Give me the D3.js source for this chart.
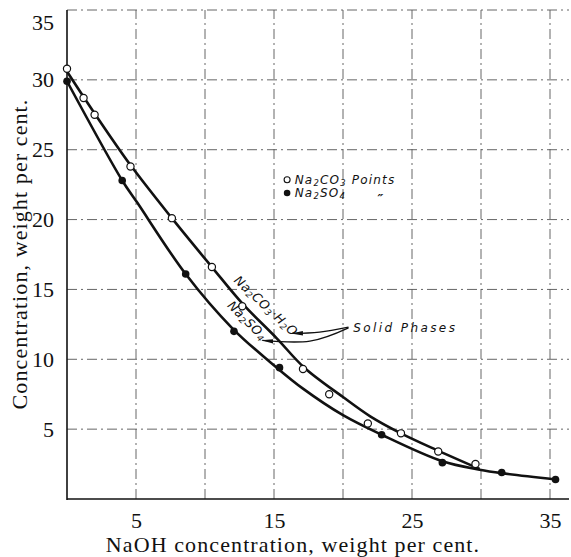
<!DOCTYPE html>
<html>
<head>
<meta charset="utf-8">
<script src="https://cdn.jsdelivr.net/npm/d3@7"></script>
<style>
  body { margin: 0; background: #fff; }
  .tick text { font-family: "Liberation Serif", serif; font-size: 22px; fill: #111; }
  .grid line { stroke: #555; stroke-width: 0.9; stroke-dasharray: 10,4,2,4; }
  .lettering { font-family: "DejaVu Sans", sans-serif; font-style: italic; fill: #111; }
</style>
</head>
<body>
<div id="chart"></div>
<script>
// Na2CO3 points (open circles)
var carbX = [0, 1.2, 2.0, 4.6, 7.6, 10.5, 12.7, 17.1, 19.0, 21.8, 24.2, 26.9, 29.6];
var carbY = [30.8, 28.7, 27.5, 23.8, 20.1, 16.6, 13.8, 9.3, 7.5, 5.4, 4.7, 3.4, 2.5];

// Na2SO4 points (filled circles)
var sulfX = [0, 4.0, 8.6, 12.1, 15.4, 22.8, 27.2, 31.5, 35.4];
var sulfY = [29.9, 22.8, 16.1, 12.0, 9.4, 4.6, 2.6, 1.9, 1.4];

// smoothed curves
var carbCurveX = [0, 2.0, 4.6, 7.6, 10.5, 12.7, 15.2, 17.2, 20.0, 22.0, 24.2, 26.8, 29.9];
var carbCurveY = [30.6, 27.6, 23.9, 20.1, 16.6, 14.0, 11.5, 9.4, 7.3, 5.9, 4.7, 3.5, 2.15];
var sulfCurveX = [0, 4.0, 5.1, 8.6, 12.0, 15.2, 17.1, 20.0, 22.8, 27.2, 29.9, 31.5, 35.4];
var sulfCurveY = [29.9, 22.8, 21.2, 16.1, 12.2, 9.4, 7.9, 6.0, 4.6, 2.7, 2.1, 1.85, 1.4];

// axis ticks
var gridTicks = [5, 10, 15, 20, 25, 30, 35];
var xLabels = [5, 15, 25, 35];
var yLabels = [5, 10, 15, 20, 25, 30, 35];

// 1. svg size
var svgWidth = 571;
var svgHeight = 557;

var svg = d3.select("#chart").append("svg")
    .attr("width", svgWidth)
    .attr("height", svgHeight);

// 2. scales (frame runs a little past 35 on the right)
var x = d3.scaleLinear().domain([0, 35]).range([67, 550]);
var y = d3.scaleLinear().domain([0, 35]).range([499, 10]);
var xRight = 569;

// 3. dash-dot grid
var grid = svg.append("g").attr("class", "grid");
grid.selectAll(".hline").data(gridTicks).enter().append("line")
    .attr("class", "hline")
    .attr("x1", x(0)).attr("x2", xRight)
    .attr("y1", d => y(d)).attr("y2", d => y(d));
grid.selectAll(".vline").data(gridTicks).enter().append("line")
    .attr("class", "vline")
    .attr("x1", d => x(d)).attr("x2", d => x(d))
    .attr("y1", y(0)).attr("y2", y(35));

// 4. solid axes
svg.append("line")
    .attr("x1", x(0)).attr("x2", x(0))
    .attr("y1", y(0) + 1).attr("y2", y(35))
    .attr("stroke", "#111").attr("stroke-width", 1.6);
svg.append("line")
    .attr("x1", x(0)).attr("x2", xRight)
    .attr("y1", y(0)).attr("y2", y(0))
    .attr("stroke", "#111").attr("stroke-width", 1.6);

// 5. tick labels
var xAxis = svg.append("g")
    .attr("transform", `translate(0, ${y(0)})`)
    .call(d3.axisBottom(x).tickValues(xLabels).tickSize(0).tickPadding(13));
xAxis.select(".domain").remove();
xAxis.attr("font-family", null).attr("font-size", null);

var yAxis = svg.append("g")
    .attr("transform", `translate(${x(0)}, 0)`)
    .call(d3.axisLeft(y).tickValues(yLabels).tickSize(0).tickPadding(13));
yAxis.select(".domain").remove();
yAxis.attr("font-family", null).attr("font-size", null);
// the top label sits a bit below the frame
yAxis.selectAll(".tick text").filter(d => d === 35).attr("dy", "0.9em");

// 6. curves
var line = d3.line()
    .x(d => x(d[0]))
    .y(d => y(d[1]))
    .curve(d3.curveCatmullRom.alpha(0.5));

svg.append("path")
    .datum(carbCurveX.map((v, i) => [v, carbCurveY[i]]))
    .attr("d", line)
    .attr("fill", "none").attr("stroke", "#111").attr("stroke-width", 2.6);
svg.append("path")
    .datum(sulfCurveX.map((v, i) => [v, sulfCurveY[i]]))
    .attr("d", line)
    .attr("fill", "none").attr("stroke", "#111").attr("stroke-width", 2.6);

// 7. points
svg.selectAll(".carb")
    .data(carbX.map((v, i) => [v, carbY[i]]))
    .enter().append("circle")
    .attr("class", "carb")
    .attr("cx", d => x(d[0])).attr("cy", d => y(d[1]))
    .attr("r", 3.6)
    .attr("fill", "#fff").attr("stroke", "#111").attr("stroke-width", 1.2);

svg.selectAll(".sulf")
    .data(sulfX.map((v, i) => [v, sulfY[i]]))
    .enter().append("circle")
    .attr("class", "sulf")
    .attr("cx", d => x(d[0])).attr("cy", d => y(d[1]))
    .attr("r", 3.8)
    .attr("fill", "#111");

// helper for formula text with subscripts
function formula(sel, parts) {
  parts.forEach(function(p) {
    var t = sel.append("tspan").text(p[0]);
    if (p[1]) t.attr("font-size", "0.7em").attr("baseline-shift", "-25%");
  });
}

// 8. legend
svg.append("circle")
    .attr("cx", x(15.95)).attr("cy", y(22.85)).attr("r", 3)
    .attr("fill", "#fff").attr("stroke", "#111").attr("stroke-width", 1.1);
svg.append("circle")
    .attr("cx", x(15.95)).attr("cy", y(21.9)).attr("r", 3.3)
    .attr("fill", "#111");

var leg1 = svg.append("text").attr("class", "lettering")
    .attr("x", x(16.5)).attr("y", y(22.55))
    .attr("font-size", 12).attr("letter-spacing", 1.2);
formula(leg1, [["Na", 0], ["2", 1], ["CO", 0], ["3", 1], ["  Points", 0]]);

var leg2 = svg.append("text").attr("class", "lettering")
    .attr("x", x(16.5)).attr("y", y(21.6))
    .attr("font-size", 12).attr("letter-spacing", 1.2);
formula(leg2, [["Na", 0], ["2", 1], ["SO", 0], ["4", 1]]);

// ditto mark under "Points"
svg.append("text").attr("class", "lettering")
    .attr("x", x(22.5)).attr("y", y(21.2))
    .attr("font-size", 13).attr("font-weight", "bold").text("\u2033");

// 9. curve labels
var lab1 = svg.append("text").attr("class", "lettering")
    .attr("font-size", 12.5).attr("letter-spacing", 0.6)
    .attr("text-anchor", "middle")
    .attr("transform", `translate(${x(14.2)}, ${y(13.6)}) rotate(43)`);
formula(lab1, [["Na", 0], ["2", 1], ["CO", 0], ["3", 1], ["\u00b7H", 0], ["2", 1], ["O", 0]]);

var lab2 = svg.append("text").attr("class", "lettering")
    .attr("font-size", 12.5).attr("letter-spacing", 0.6)
    .attr("text-anchor", "middle")
    .attr("transform", `translate(${x(12.85)}, ${y(12.55)}) rotate(45)`);
formula(lab2, [["Na", 0], ["2", 1], ["SO", 0], ["4", 1]]);

// 10. "Solid Phases" note with two arrows
svg.append("text").attr("class", "lettering")
    .attr("x", x(20.75)).attr("y", y(11.95))
    .attr("font-size", 12).attr("letter-spacing", 2.4)
    .text("Solid Phases");

svg.append("defs").append("marker")
    .attr("id", "head")
    .attr("viewBox", "0 0 12 6")
    .attr("refX", 11).attr("refY", 3)
    .attr("markerWidth", 12).attr("markerHeight", 6)
    .attr("markerUnits", "userSpaceOnUse")
    .attr("orient", "auto")
    .append("path").attr("d", "M0,0.8 L12,3 L0,5.2 Z").attr("fill", "#111");

var arrows = [
  [[20.4, 12.3], [18.3, 11.95], [16.3, 11.85]],
  [[20.4, 12.25], [17.6, 11.3], [14.15, 11.35]]
];
var arrowLine = d3.line()
    .x(d => x(d[0]))
    .y(d => y(d[1]))
    .curve(d3.curveNatural);
svg.selectAll(".arrow").data(arrows).enter().append("path")
    .attr("class", "arrow")
    .attr("d", arrowLine)
    .attr("fill", "none").attr("stroke", "#111").attr("stroke-width", 1.3)
    .attr("marker-end", "url(#head)");

// 11. axis titles
svg.append("text")
    .attr("x", 293).attr("y", 552)
    .attr("text-anchor", "middle")
    .attr("font-family", "Liberation Serif, serif")
    .attr("font-size", 22)
    .attr("letter-spacing", 1.1)
    .attr("fill", "#111")
    .text("NaOH concentration, weight per cent.");

svg.append("text")
    .attr("transform", "translate(27, 254) rotate(-90)")
    .attr("text-anchor", "middle")
    .attr("font-family", "Liberation Serif, serif")
    .attr("font-size", 22)
    .attr("letter-spacing", 1.1)
    .attr("fill", "#111")
    .text("Concentration, weight per cent.");
</script>
</body>
</html>
